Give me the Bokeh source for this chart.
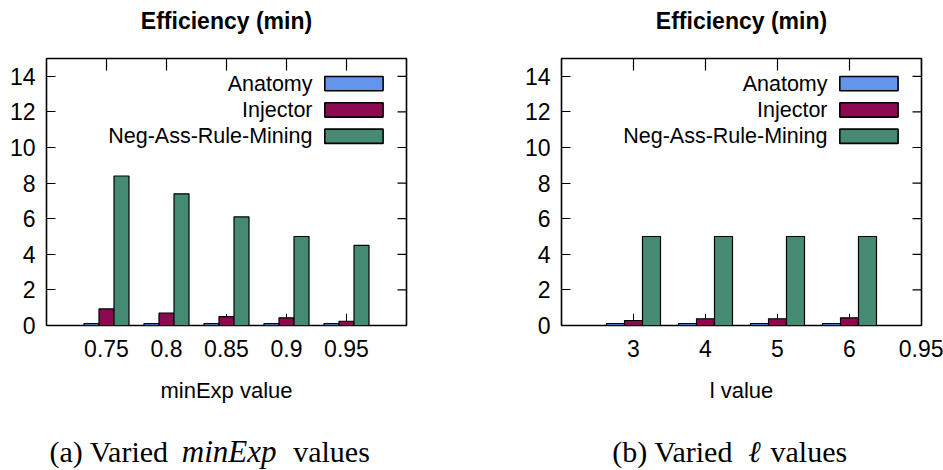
import math
from bokeh.plotting import figure
from bokeh.layouts import row, column
from bokeh.models import ColumnDataSource, Label, FixedTicker, Range1d
from bokeh.embed import file_html
from bokeh.resources import INLINE

# ---------------- data ----------------
series_names = ["Anatomy", "Injector", "Neg-Ass-Rule-Mining"]
series_colors = ["#6495ED", "#8B0A50", "#458B74"]

a_labels = ["0.75", "0.8", "0.85", "0.9", "0.95"]
a_anatomy = [0.11, 0.11, 0.11, 0.11, 0.11]
a_injector = [0.93, 0.69, 0.50, 0.43, 0.24]
a_neg = [8.4, 7.4, 6.1, 5.0, 4.5]
a_injector_err = [float("nan"), float("nan"), 0.65, 0.66, 0.66]

b_labels = ["3", "4", "5", "6"]
b_extra_tick_label = "0.95"
b_anatomy = [0.11, 0.11, 0.11, 0.11]
b_injector = [0.28, 0.38, 0.38, 0.43]
b_neg = [5.0, 5.0, 5.0, 5.0]
b_injector_err = [0.66, 0.66, 0.66, 0.66]

y_ticks = [0, 2, 4, 6, 8, 10, 12, 14]
title_text = "Efficiency (min)"
a_xlabel = "minExp value"
b_xlabel = "l value"

SANS = "Liberation Sans"
SERIF = "Liberation Serif"

W = 943
TOP_STRIP = 56
CAP_STRIP = 58
CHART_H = 470 - TOP_STRIP - CAP_STRIP
FRAME_W, FRAME_H = 360, 267
FT = 58            # page y of frame top
Y0, Y1 = 0, 15


def strip(h, y_top):
    s = figure(width=W, height=h, x_range=Range1d(0, W), y_range=Range1d(y_top + h, y_top),
               min_border=0, x_axis_type=None, y_axis_type=None,
               output_backend="svg", toolbar_location=None)
    s.outline_line_color = None
    s.xgrid.visible = False
    s.ygrid.visible = False
    return s


def make_panel(labels, extra_labels, values, inj_err, xlabel, fig_left, bl, br):
    n = len(labels)
    x0, x1 = -1, n
    frame_left = fig_left + bl
    frame_right = frame_left + FRAME_W

    def dx(px):
        return x0 + (px - frame_left) * (x1 - x0) / FRAME_W

    def dy(py):
        return Y1 - (py - FT) * (Y1 - Y0) / FRAME_H

    p = figure(frame_width=FRAME_W, frame_height=FRAME_H,
               min_border_left=bl, min_border_right=br,
               min_border_top=FT - TOP_STRIP, min_border_bottom=CHART_H - (FT - TOP_STRIP) - FRAME_H,
               x_range=Range1d(x0, x1), y_range=Range1d(Y0, Y1),
               output_backend="svg", toolbar_location=None)
    p.outline_line_color = "black"
    p.outline_line_width = 1.6
    p.outline_line_alpha = 1
    p.xgrid.visible = False
    p.ygrid.visible = False

    all_labels = labels + extra_labels
    xt = list(range(len(all_labels)))
    p.xaxis.ticker = FixedTicker(ticks=xt)
    p.xaxis.major_label_overrides = {i: s for i, s in enumerate(all_labels)}
    p.xaxis.axis_line_color = None
    p.xaxis.major_tick_in = 0
    p.xaxis.major_tick_out = 0
    p.xaxis.minor_tick_line_color = None
    p.xaxis.major_label_text_font = SANS
    p.xaxis.major_label_text_font_size = "23px"
    p.xaxis.major_label_text_color = "black"
    p.xaxis.major_label_standoff = 14
    p.xaxis.axis_label = xlabel
    p.xaxis.axis_label_text_font = SANS
    p.xaxis.axis_label_text_font_size = "22px"
    p.xaxis.axis_label_text_font_style = "normal"
    p.xaxis.axis_label_text_color = "black"
    p.xaxis.axis_label_standoff = 18

    p.yaxis.ticker = FixedTicker(ticks=y_ticks)
    p.yaxis.axis_line_color = None
    p.yaxis.major_tick_in = 9
    p.yaxis.major_tick_out = 0
    p.yaxis.major_tick_line_color = "black"
    p.yaxis.major_tick_line_width = 1.2
    p.yaxis.minor_tick_line_color = None
    p.yaxis.major_label_text_font = SANS
    p.yaxis.major_label_text_font_size = "23px"
    p.yaxis.major_label_text_color = "black"
    p.yaxis.major_label_standoff = 11

    # mirror ticks on top and right (half of each dash is clipped by the frame)
    p.scatter(x=xt, y=[Y1] * len(xt), marker="dash", size=24, angle=math.pi / 2,
              line_color="black", line_width=1.2)
    p.scatter(x=[x1] * len(y_ticks), y=y_ticks, marker="dash", size=18,
              line_color="black", line_width=1.2)

    idx = list(range(n))
    for i, (name, col) in enumerate(zip(series_names, series_colors)):
        src = ColumnDataSource(dict(x=[k + (i - 1) * 0.25 for k in idx], top=values[i]))
        p.vbar(x="x", top="top", bottom=0, width=0.25, source=src,
               fill_color=col, line_color="black", line_width=1.2)

    ex = [k for k in idx if not math.isnan(inj_err[k])]
    p.segment(x0=ex, y0=[values[1][k] for k in ex], x1=ex, y1=[inj_err[k] for k in ex],
              line_color="black", line_width=1)

    # legend (label left, swatch right)
    for k, (name, col) in enumerate(zip(series_names, series_colors)):
        top_px = 76 + 26.3 * k
        p.quad(left=dx(frame_right - 81.7), right=dx(frame_right - 23.4),
               top=dy(top_px), bottom=dy(top_px + 14.3),
               fill_color=col, line_color="black", line_width=1.6)
        p.add_layout(Label(x=dx(frame_right - 94), y=dy(83 + 26.3 * k), text=name,
                           text_align="right", text_baseline="middle",
                           text_font=SANS, text_font_size="21.5px", text_color="black"))
    return p, frame_left + FRAME_W / 2


pa, ca = make_panel(a_labels, [], [a_anatomy, a_injector, a_neg], a_injector_err,
                    a_xlabel, 0, 46, 65)
pb, cb = make_panel(b_labels, [b_extra_tick_label], [b_anatomy, b_injector, b_neg],
                    b_injector_err, b_xlabel, 471, 90, 22)

# titles strip
top = strip(TOP_STRIP, 0)
for cx in (ca, cb):
    top.add_layout(Label(x=cx, y=20, text=title_text, text_align="center",
                         text_baseline="middle", text_font=SANS, text_font_size="23px",
                         text_font_style="bold", text_color="black"))

# caption strip
cap = strip(CAP_STRIP, TOP_STRIP + CHART_H)
caption_parts = [("(a) Varied", 49, "left", "normal", "30px"),
                 ("minExp", 228.7, "center", "italic", "31px"),
                 ("values", 292.7, "left", "normal", "30px"),
                 ("(b) Varied", 611.7, "left", "normal", "30px"),
                 ("\u2113", 754, "center", "italic", "30px"),
                 ("values", 770, "left", "normal", "30px")]
for txt, px, align, style, size in caption_parts:
    cap.add_layout(Label(x=px, y=451, text=txt, text_align=align,
                         text_baseline="middle", text_font=SERIF,
                         text_font_size=size, text_font_style=style,
                         text_color="black"))

layout = column(top, row(pa, pb), cap)
open("out.html", "w").write(file_html(layout, INLINE))
